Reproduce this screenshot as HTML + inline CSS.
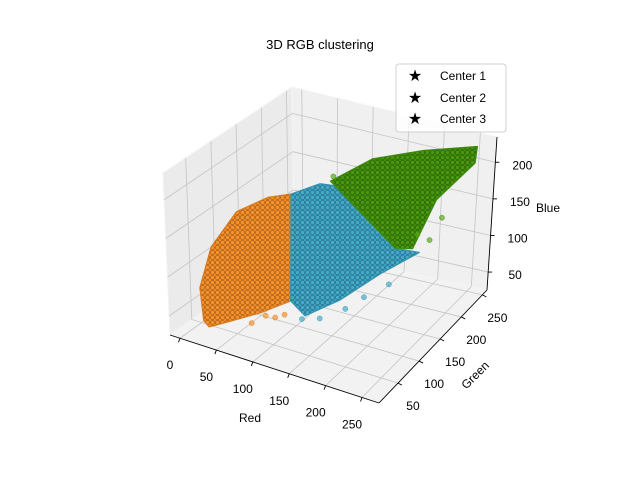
<!DOCTYPE html>
<html><head><meta charset="utf-8"><style>
html,body{margin:0;padding:0;background:#fff;}
svg{display:block;font-family:"Liberation Sans","DejaVu Sans",sans-serif;}
</style></head><body>
<svg id="chart" width="640" height="480" viewBox="0 0 640 480">
<defs>
<pattern id="pOr" width="5" height="5" patternUnits="userSpaceOnUse"><rect width="5" height="5" fill="#f08a24"/><circle cx="2.5" cy="2.5" r="2" fill="#f7942e" stroke="#6a3a10" stroke-width="0.4"/></pattern>
<pattern id="pBl" width="5" height="5" patternUnits="userSpaceOnUse"><rect width="5" height="5" fill="#3a9fc0"/><circle cx="2.5" cy="2.5" r="2" fill="#45adcc" stroke="#1c4a5a" stroke-width="0.4"/></pattern>
<pattern id="pGr" width="5" height="5" patternUnits="userSpaceOnUse"><rect width="5" height="5" fill="#3f8a0a"/><circle cx="2.5" cy="2.5" r="2" fill="#4a9a10" stroke="#1e4205" stroke-width="0.4"/></pattern>
</defs>
<g id="panes"></g>
<g id="grid"></g>
<g id="clusters"></g>
<g id="axes"></g>
<text x="320" y="49" text-anchor="middle" font-size="13">3D RGB clustering</text>
<text x="250" y="422" text-anchor="middle" font-size="12">Red</text>
<text x="0" y="0" transform="translate(478,378) rotate(-45)" text-anchor="middle" font-size="12">Green</text>
<text x="548" y="212" text-anchor="middle" font-size="12">Blue</text>
<g>
<rect x="396" y="64" width="110" height="68" rx="3" fill="#fff" fill-opacity="0.85" stroke="#d0d0d0"/>
<g><text x="415" y="81" text-anchor="middle" font-size="16">★</text><text x="440" y="80" font-size="12">Center 1</text></g>
<g><text x="415" y="103" text-anchor="middle" font-size="16">★</text><text x="440" y="102" font-size="12">Center 2</text></g>
<g><text x="415" y="124" text-anchor="middle" font-size="16">★</text><text x="440" y="123" font-size="12">Center 3</text></g>
</g>
</svg>
<script>
const redTicks=[0,50,100,150,200,250];
const greenTicks=[50,100,150,200,250];
const blueTicks=[50,100,150,200];
const clusterNames=["cluster-1","cluster-2","cluster-3"];
const orangeOutline=[[21,24,46],[18,23,88],[30,31,140],[52,52,182],[75,82,193],[82,119,182],[83,114,46],[57,89,36],[37,53,36],[24,30,36]];
const blueOutline=[[82,119,182],[109,139,193],[127,143,193],[218,132,140],[240,151,130],[185,151,88],[145,127,57],[107,108,36],[83,114,46]];
const greenOutline=[[116,150,193],[151,185,214],[199,219,220],[255,248,224],[255,245,203],[225,210,165],[228,155,130],[218,132,140]];
const orangeOutliers=[[60,95,30],[70,100,28],[50,80,25],[78,108,30]];
const blueOutliers=[[120,120,30],[150,130,45],[170,140,60],[200,148,80],[100,112,28]];
const greenOutliers=[[120,150,200],[240,200,150],[236,180,130],[225,170,140]];
const R=[-13.7,273.3],G=[5,261],B=[25.5,234.5];
const C={"000":[170,335],"100":[379,403],"110":[487,290],"010":[294,247],"001":[163,173],"101":[377,235],"111":[497,137],"011":[292,87]};
function lerp(a,b,t){return [a[0]+(b[0]-a[0])*t,a[1]+(b[1]-a[1])*t];}
function projN(u,v,w){
 const b0=lerp(lerp(C["000"],C["100"],u),lerp(C["010"],C["110"],u),v);
 const b1=lerp(lerp(C["001"],C["101"],u),lerp(C["011"],C["111"],u),v);
 return lerp(b0,b1,w);}
function nr(r){return (r-R[0])/(R[1]-R[0]);}
function ng(g){return (g-G[0])/(G[1]-G[0]);}
function nb(b){return (b-B[0])/(B[1]-B[0]);}
function proj(p){return projN(nr(p[0]),ng(p[1]),nb(p[2]));}
const NS="http://www.w3.org/2000/svg";
function mk(parent,tag,attrs){const e=document.createElementNS(NS,tag);for(const k in attrs)e.setAttribute(k,attrs[k]);document.getElementById(parent).appendChild(e);return e;}
function pts(arr){return arr.map(p=>p[0].toFixed(1)+","+p[1].toFixed(1)).join(" ");}
let e;
e=mk("panes","polygon",{points:pts([projN(0,0,0),projN(1,0,0),projN(1,1,0),projN(0,1,0)]),fill:"#f2f2f2",stroke:"#f6f6f6"});


e=mk("panes","polygon",{points:pts([projN(0,0,0),projN(0,1,0),projN(0,1,1),projN(0,0,1)]),fill:"#ebebeb",stroke:"#f2f2f2"});


e=mk("panes","polygon",{points:pts([projN(0,1,0),projN(1,1,0),projN(1,1,1),projN(0,1,1)]),fill:"#f0f0f0",stroke:"#f4f4f4"});


function gl(a,b){const l=mk("grid","line",{x1:a[0],y1:a[1],x2:b[0],y2:b[1],stroke:"#c4c4c4","stroke-width":0.8});

}
redTicks.forEach(t=>{const u=nr(t);gl(projN(u,0,0),projN(u,1,0));gl(projN(u,1,0),projN(u,1,1));});
greenTicks.forEach(t=>{const v=ng(t);gl(projN(0,v,0),projN(1,v,0));gl(projN(0,v,0),projN(0,v,1));});
blueTicks.forEach(t=>{const w=nb(t);gl(projN(0,0,w),projN(0,1,w));gl(projN(0,1,w),projN(1,1,w));});
function cluster(outline,fill,edge,outl,name,ptFill){
 const p=mk("clusters","polygon",{points:pts(outline.map(proj)),fill:fill,stroke:edge,"stroke-width":1.2,"stroke-linejoin":"round"});
 
 
 outl.forEach(o=>{const q=proj(o);const c=mk("clusters","circle",{cx:q[0],cy:q[1],r:2.6,fill:ptFill,"fill-opacity":0.7,stroke:edge,"stroke-width":0.4});
 
 });
}
cluster(orangeOutline,"url(#pOr)","#d87a20",orangeOutliers,clusterNames[0],"#f7942e");
cluster(blueOutline,"url(#pBl)","#3592b0",blueOutliers,clusterNames[1],"#45adcc");
cluster(greenOutline,"url(#pGr)","#3c8a0a",greenOutliers,clusterNames[2],"#5aa820");
function al(a,b,name){const l=mk("axes","line",{x1:a[0],y1:a[1],x2:b[0],y2:b[1],stroke:"#000","stroke-width":0.9});

}
al(projN(0,0,0),projN(1,0,0),'x-axis-line');
al(projN(1,0,0),projN(1,1,0),'y-axis-line');
al(projN(1,1,0),projN(1,1,1),'z-axis-line');
function lbl(x,y,s,name){const t=mk("axes","text",{x:x,y:y,"text-anchor":"middle","font-size":12});t.textContent=s;

}
redTicks.forEach(t=>{const p=projN(nr(t),0,0);al(p,[p[0]-1.5,p[1]+4],'x-tick');lbl(p[0]-10,p[1]+31,String(t),'x-tick-label');});
greenTicks.forEach(t=>{const p=projN(1,ng(t),0);al(p,[p[0]+4,p[1]+2],'y-tick');lbl(p[0]+15,p[1]+27,String(t),'y-tick-label');});
blueTicks.forEach(t=>{const p=projN(1,1,nb(t));al(p,[p[0]+4,p[1]],'z-tick');lbl(p[0]+27,p[1]+7,String(t),'z-tick-label');});
</script>
</body></html>
